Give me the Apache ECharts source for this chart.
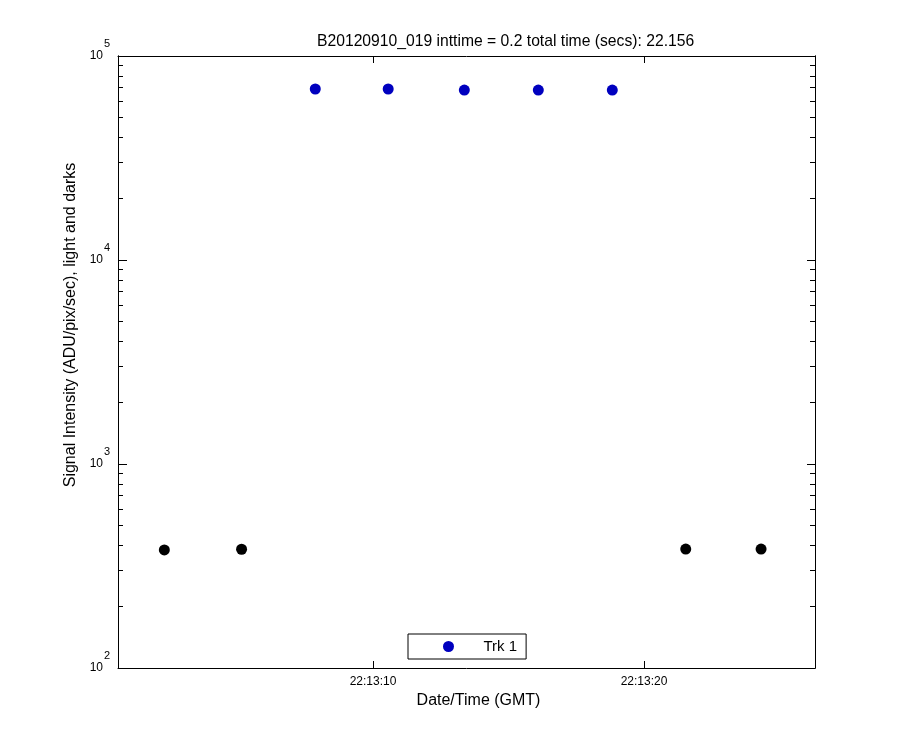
<!DOCTYPE html>
<html>
<head>
<meta charset="utf-8">
<script src="https://cdn.jsdelivr.net/npm/echarts@6/dist/echarts.min.js"></script>
<style>html,body{margin:0;padding:0;background:#fff}#c{width:900px;height:750px}</style>
</head>
<body>
<div id="c"></div>
<script>
// seconds after 22:13:00 GMT
const darkTimes = [2.30, 5.15, 21.54, 24.32];
const darkValues = [379, 382, 383, 383];
const lightTimes = [7.87, 10.56, 13.37, 16.10, 18.83];
const lightValues = [68900, 68900, 68100, 68100, 68100];
const xTickValues = [10, 20];
const xTickLabels = ['22:13:10', '22:13:20'];
const yMajorValues = [100, 1000, 10000, 100000];
const titleText = 'B20120910_019 inttime = 0.2 total time (secs): 22.156';
const xName = 'Date/Time (GMT)';
const yName = 'Signal Intensity (ADU/pix/sec), light and darks';
const seriesName = 'Trk 1';

const FONT = 'Liberation Sans, Arial, sans-serif';
const minorValues = [];
[100, 1000, 10000].forEach(d => { for (let k = 2; k <= 9; k++) minorValues.push(k * d); });

const X_MIN = 0.59, X_MAX = 26.31;

function yAx(pos, opts) {
  return Object.assign({
    type: 'log', logBase: 10, min: 100, max: 100000, position: pos,
    splitLine: { show: false },
    axisLine: { show: true, lineStyle: { color: '#000', width: 1 } },
    axisLabel: { show: false },
    axisTick: { show: true, inside: true, length: 8, lineStyle: { color: '#000' } }
  }, opts || {});
}

const chart = echarts.init(document.getElementById('c'), null, { renderer: 'canvas' });
chart.setOption({
  backgroundColor: '#fff',
  animation: false,
  textStyle: { fontFamily: FONT },
  title: {
    text: titleText, left: 317, top: 34, padding: 0,
    textStyle: { fontSize: 15.7, fontWeight: 'normal', color: '#000', fontFamily: FONT }
  },
  legend: {
    data: [seriesName], left: 408, top: 634, padding: [5, 9, 5, 35],
    itemWidth: 60, itemHeight: 11, borderColor: '#000', borderWidth: 1,
    textStyle: { fontSize: 15, color: '#000', fontFamily: FONT }
  },
  grid: { left: 118, right: 85, top: 56, bottom: 82, containLabel: false },
  xAxis: [
    {
      type: 'value', min: X_MIN, max: X_MAX, position: 'bottom',
      name: xName, nameLocation: 'middle', nameGap: 23,
      nameTextStyle: { fontSize: 16, color: '#000', fontFamily: FONT, padding: [0, 0, 0, 24] },
      splitLine: { show: false },
      axisLine: { show: true, onZero: false, lineStyle: { color: '#000' } },
      axisTick: { show: true, inside: true, length: 7, customValues: xTickValues, lineStyle: { color: '#000' } },
      axisLabel: {
        show: true, customValues: xTickValues, margin: 8, fontSize: 12, color: '#000', fontFamily: FONT,
        formatter: v => xTickLabels[xTickValues.indexOf(Math.round(v))] || ''
      }
    },
    {
      type: 'value', min: X_MIN, max: X_MAX, position: 'top',
      splitLine: { show: false },
      axisLine: { show: true, onZero: false, lineStyle: { color: '#000' } },
      axisTick: { show: true, inside: true, length: 7, customValues: xTickValues, lineStyle: { color: '#000' } },
      axisLabel: { show: false }
    }
  ],
  yAxis: [
    yAx('left', {
      name: yName, nameLocation: 'middle', nameGap: 37, nameRotate: 90,
      nameTextStyle: { fontSize: 16, color: '#000', fontFamily: FONT, padding: [0, 0, 0, 74] },
      axisLabel: {
        show: true, margin: 8, color: '#000', fontFamily: FONT, align: 'right',
        formatter: v => {
          const e = Math.round(Math.log10(v));
          return '{e|' + e + '}\n{b|10}{s| }\n{s| }';
        },
        rich: {
          e: { fontSize: 11, lineHeight: 12, fontFamily: FONT, color: '#000' },
          b: { fontSize: 12, lineHeight: 12, fontFamily: FONT, color: '#000' },
          s: { fontSize: 12, lineHeight: 12, width: 7 }
        }
      },
      axisTick: { show: true, inside: true, length: 9, customValues: yMajorValues, lineStyle: { color: '#000' } }
    }),
    yAx('left', { axisTick: { show: true, inside: true, length: 5, customValues: minorValues, lineStyle: { color: '#000' } } }),
    yAx('right', { axisTick: { show: true, inside: true, length: 8, customValues: yMajorValues, lineStyle: { color: '#000' } } }),
    yAx('right', { axisTick: { show: true, inside: true, length: 5, customValues: minorValues, lineStyle: { color: '#000' } } })
  ],
  series: [
    {
      name: seriesName, type: 'scatter', xAxisIndex: 0, yAxisIndex: 0,
      symbol: 'circle', symbolSize: 11,
      itemStyle: { color: '#0000BF', opacity: 1 },
      data: lightTimes.map((t, i) => [t, lightValues[i]])
    },
    {
      name: 'darks', type: 'scatter', xAxisIndex: 0, yAxisIndex: 0,
      symbol: 'circle', symbolSize: 11,
      itemStyle: { color: '#000', opacity: 1 },
      data: darkTimes.map((t, i) => [t, darkValues[i]])
    }
  ]
});
</script>
</body>
</html>
